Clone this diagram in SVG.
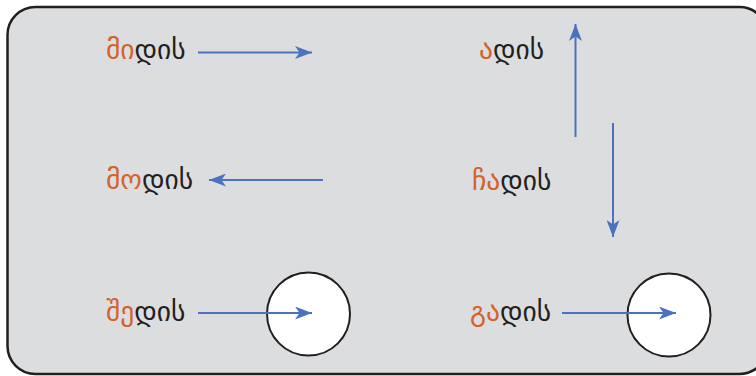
<svg xmlns="http://www.w3.org/2000/svg" width="756" height="376" viewBox="0 0 756 376">
<style>
.t{font-family:"DejaVu Sans","Noto Sans",sans-serif;font-size:27.5px;fill:#231f20}
.o{fill:#d4622b}
.c{stroke:#4a72be;stroke-width:2;fill:none}
.ring{fill:#ffffff;stroke:#231f20;stroke-width:2}
</style>
<defs>
<marker id="ah" viewBox="0 0 17 13" refX="17" refY="6.5" markerWidth="17" markerHeight="13" markerUnits="userSpaceOnUse" orient="auto">
<path d="M0,0 L17,6.5 L0,13 L4.5,6.5 Z" fill="#4a72be"/>
</marker>
</defs>
<rect id="frame" x="7.5" y="7" width="760" height="367" rx="28" ry="28" fill="#dcdddf" stroke="#231f20" stroke-width="2.5"/>
<g id="circle-left"><circle class="ring" cx="308.5" cy="314" r="41.5"/></g>
<g id="circle-right"><circle class="ring" cx="669" cy="315" r="41.5"/></g>
<g id="n-midis"><text class="t" x="106" y="59"><tspan class="o">მი</tspan>დის</text></g>
<g id="n-modis"><text class="t" x="106" y="189"><tspan class="o">მო</tspan>დის</text></g>
<g id="n-shedis"><text class="t" x="106" y="321"><tspan class="o">შე</tspan>დის</text></g>
<g id="n-adis"><text class="t" x="479" y="59"><tspan class="o">ა</tspan>დის</text></g>
<g id="n-chadis"><text class="t" x="472" y="190"><tspan class="o">ჩა</tspan>დის</text></g>
<g id="n-gadis"><text class="t" x="470" y="321"><tspan class="o">გა</tspan>დის</text></g>
<g id="connectors">
<line class="c" x1="198" y1="52.5" x2="312" y2="52.5" marker-end="url(#ah)"/>
<line class="c" x1="323" y1="180" x2="209" y2="180" marker-end="url(#ah)"/>
<line class="c" x1="575.5" y1="137" x2="575.5" y2="24" marker-end="url(#ah)"/>
<line class="c" x1="613" y1="123" x2="613" y2="237" marker-end="url(#ah)"/>
<line class="c" x1="198" y1="313" x2="312" y2="313" marker-end="url(#ah)"/>
<line class="c" x1="562" y1="313" x2="676" y2="313" marker-end="url(#ah)"/>
</g>
</svg>
